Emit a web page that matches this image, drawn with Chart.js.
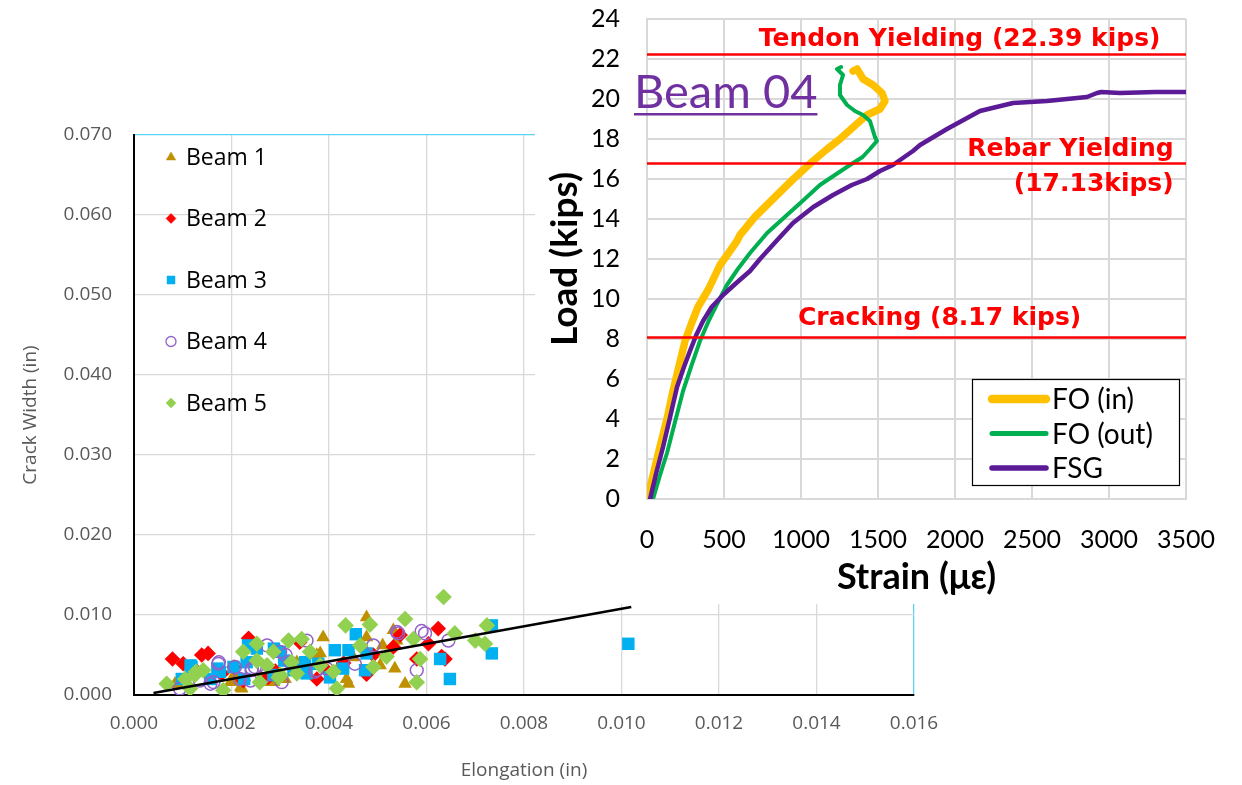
<!DOCTYPE html>
<html>
<head>
<meta charset="utf-8">
<script src="https://cdn.jsdelivr.net/npm/chart.js@4/dist/chart.umd.min.js"></script>
<style>
  html, body { margin: 0; padding: 0; background: #fff; }
  #wrap { position: relative; width: 1242px; height: 785px; overflow: hidden; }
  #crack { position: absolute; left: 0; top: 0; }
  #load { position: absolute; left: 535px; top: -23px; background: #fff; }
</style>
</head>
<body>
<div id="wrap">
  <canvas id="crack" width="1242" height="785"></canvas>
  <canvas id="load" width="707" height="627"></canvas>
</div>
<script>
// ---- crack width vs elongation (in) ----
const beam1X = [0.00477, 0.00388, 0.00477, 0.00532, 0.00539, 0.00535, 0.00556, 0.00505, 0.00436, 0.0044, 0.00382, 0.00477, 0.00416, 0.00221, 0.0021, 0.00084, 0.00334, 0.00286, 0.00375, 0.00205, 0.00219, 0.00198, 0.00089, 0.0028, 0.0031, 0.0026, 0.0045, 0.0051];
const beam1Y = [0.0097, 0.0072, 0.0072, 0.0081, 0.0068, 0.0033, 0.0014, 0.0037, 0.0020, 0.0014, 0.0052, 0.0052, 0.0031, 0.0008, 0.0018, 0.0014, 0.0041, 0.0016, 0.0050, 0.0025, 0.0010, 0.0016, 0.0014, 0.0016, 0.0020, 0.0022, 0.0047, 0.0062];

const beam2X = [0.00079, 0.00139, 0.00152, 0.00235, 0.0034, 0.00624, 0.00638, 0.00604, 0.00491, 0.00388, 0.00375, 0.00275, 0.00224, 0.00477, 0.00532, 0.0058, 0.00101, 0.00205, 0.00546, 0.00631, 0.0012, 0.0018, 0.0043, 0.0029];
const beam2Y = [0.0045, 0.0050, 0.0052, 0.0071, 0.0066, 0.0083, 0.0045, 0.0064, 0.0050, 0.0035, 0.0020, 0.0022, 0.0018, 0.0026, 0.0060, 0.0045, 0.0039, 0.0035, 0.0075, 0.0048, 0.0035, 0.0027, 0.0040, 0.0030];

const beam3X = [0.00734, 0.00734, 0.00648, 0.01014, 0.00628, 0.00455, 0.00412, 0.0044, 0.00402, 0.00429, 0.00474, 0.00477, 0.00354, 0.00351, 0.003, 0.00234, 0.00252, 0.00231, 0.00176, 0.00204, 0.00118, 0.00098, 0.00156, 0.00286, 0.00327, 0.00378, 0.00116, 0.00171, 0.00308, 0.00287, 0.00226];
const beam3Y = [0.0087, 0.0052, 0.0020, 0.0064, 0.0045, 0.0076, 0.0056, 0.0056, 0.0022, 0.0033, 0.0031, 0.0052, 0.0027, 0.0041, 0.0054, 0.0062, 0.0058, 0.0041, 0.0029, 0.0035, 0.0035, 0.0020, 0.0020, 0.0025, 0.0031, 0.0039, 0.0037, 0.0033, 0.0043, 0.0058, 0.0020];

const beam4X = [0.00539, 0.00597, 0.00645, 0.0058, 0.00491, 0.00453, 0.00354, 0.00375, 0.003, 0.0032, 0.00248, 0.00207, 0.00173, 0.00217, 0.00163, 0.00094, 0.00135, 0.00272, 0.00303, 0.00241, 0.00542, 0.00395, 0.00371, 0.00273, 0.00311, 0.00174, 0.00239, 0.00242, 0.00157, 0.0059];
const beam4Y = [0.0079, 0.0077, 0.0068, 0.0031, 0.0062, 0.0039, 0.0068, 0.0031, 0.0054, 0.0041, 0.0035, 0.0035, 0.0039, 0.0020, 0.0016, 0.0008, 0.0018, 0.0025, 0.0016, 0.0031, 0.0077, 0.0033, 0.0029, 0.0062, 0.0050, 0.0041, 0.0018, 0.0033, 0.0014, 0.0080];

const beam5X = [0.00635, 0.00724, 0.0070, 0.0072, 0.00658, 0.00556, 0.00484, 0.00434, 0.00573, 0.00587, 0.0058, 0.00416, 0.00464, 0.00491, 0.00518, 0.00317, 0.00344, 0.00361, 0.00286, 0.00252, 0.00224, 0.00252, 0.00323, 0.00334, 0.0030, 0.00258, 0.00183, 0.00142, 0.00125, 0.00105, 0.00067, 0.00115, 0.00382, 0.00409, 0.00273, 0.00297, 0.00127];
const beam5Y = [0.01225, 0.0087, 0.0068, 0.0064, 0.0077, 0.0095, 0.0088, 0.0087, 0.0070, 0.0045, 0.0016, 0.0008, 0.0062, 0.0035, 0.0048, 0.0068, 0.0070, 0.0054, 0.0054, 0.0064, 0.0054, 0.0043, 0.0041, 0.0027, 0.0025, 0.0016, 0.0006, 0.0031, 0.0025, 0.0020, 0.0014, 0.0008, 0.0037, 0.0029, 0.0037, 0.0022, 0.0029];

const trendX = [0.0004, 0.0102];
const trendY = [0.00025, 0.0110];

const beamNames = ['Beam 1', 'Beam 2', 'Beam 3', 'Beam 4', 'Beam 5'];

// ---- load vs strain, beam 04 ----
const foInStrain = [0, 40, 84, 130, 169, 210, 247, 290, 331, 400, 474, 530, 584, 604, 700, 818, 950, 1078, 1170, 1253, 1340, 1428, 1513, 1545, 1526, 1468, 1403, 1364, 1338];
const foInLoad = [0, 1.2, 2.6, 4.0, 5.4, 6.7, 7.9, 8.8, 9.6, 10.5, 11.7, 12.3, 12.9, 13.2, 14.1, 15.0, 16.0, 16.9, 17.5, 18.0, 18.6, 19.2, 19.5, 19.9, 20.3, 20.7, 21.0, 21.5, 21.4];

const foOutStrain = [39, 85, 130, 180, 234, 290, 344, 400, 455, 519, 590, 669, 780, 909, 1010, 1123, 1220, 1318, 1400, 1448, 1493, 1480, 1468, 1448, 1403, 1350, 1299, 1253, 1253, 1273, 1234, 1260];
const foOutLoad = [0, 1.2, 2.3, 3.8, 5.4, 6.7, 7.9, 8.9, 9.75, 10.7, 11.5, 12.3, 13.3, 14.2, 14.9, 15.7, 16.2, 16.7, 17.1, 17.5, 17.9, 18.1, 18.4, 18.9, 19.2, 19.4, 19.7, 20.2, 20.7, 21.2, 21.5, 21.6];

const fsgStrain = [20, 60, 104, 150, 195, 240, 279, 320, 364, 420, 494, 580, 669, 734, 840, 948, 1080, 1208, 1330, 1429, 1513, 1597, 1727, 1773, 1948, 2162, 2377, 2597, 2857, 2922, 2950, 3071, 3300, 3500];
const fsgLoad = [0, 1.3, 2.6, 4.1, 5.6, 6.6, 7.4, 8.2, 8.9, 9.6, 10.2, 10.8, 11.4, 12.0, 12.9, 13.8, 14.6, 15.2, 15.7, 16.0, 16.4, 16.7, 17.4, 17.7, 18.5, 19.4, 19.8, 19.9, 20.1, 20.3, 20.35, 20.3, 20.35, 20.35];

const limitNames = ['Tendon Yielding', 'Rebar Yielding', 'Cracking'];
const limitLoads = [22.23, 16.78, 8.07];
const strainRange = [0, 3500];

const pts = (xs, ys) => xs.map((x, i) => ({ x: x, y: ys[i] }));

// scatter marker look
const beamStyles = [
  { pointStyle: 'triangle', color: '#BF9000', radius: 7.8, fill: true },
  { pointStyle: 'rectRot', color: '#FF0000', radius: 7.8, fill: true },
  { pointStyle: 'rect', color: '#00B0F0', radius: 8.8, fill: true },
  { pointStyle: 'circle', color: '#9361C8', radius: 6.4, fill: false },
  { pointStyle: 'rectRot', color: '#92D050', radius: 8.3, fill: true }
];
const beamX = [beam1X, beam2X, beam3X, beam4X, beam5X];
const beamY = [beam1Y, beam2Y, beam3Y, beam4Y, beam5Y];

function drawMarker(ctx, style, x, y, r) {
  ctx.beginPath();
  if (style === 'triangle') {
    ctx.moveTo(x, y - r);
    ctx.lineTo(x + r * 0.95, y + r * 0.6);
    ctx.lineTo(x - r * 0.95, y + r * 0.6);
    ctx.closePath();
  } else if (style === 'rectRot') {
    ctx.moveTo(x, y - r); ctx.lineTo(x + r, y); ctx.lineTo(x, y + r); ctx.lineTo(x - r, y);
    ctx.closePath();
  } else if (style === 'rect') {
    ctx.rect(x - r * 0.8, y - r * 0.8, r * 1.6, r * 1.6);
  } else {
    ctx.arc(x, y, r, 0, Math.PI * 2);
  }
  ctx.fill();
  ctx.stroke();
}

// legend drawn inside the plot, top left
const beamLegend = {
  id: 'beamLegend',
  afterDraw(chart) {
    const ctx = chart.ctx;
    const a = chart.chartArea;
    ctx.save();
    ctx.font = '23px "Open Sans"';
    ctx.textBaseline = 'middle';
    ctx.textAlign = 'left';
    beamNames.forEach((name, i) => {
      const st = beamStyles[i];
      const y = a.top + 22 + i * 61.5;
      ctx.fillStyle = st.fill ? st.color : '#fff';
      ctx.strokeStyle = st.color;
      ctx.lineWidth = st.fill ? 0.5 : 1.3;
      drawMarker(ctx, st.pointStyle, a.left + 37, y, 5);
      ctx.fillStyle = '#000';
      ctx.fillText(name, a.left + 52, y + 1);
    });
    ctx.restore();
  }
};

const crackSets = beamNames.map((name, i) => ({
  label: name,
  data: pts(beamX[i], beamY[i]),
  pointStyle: beamStyles[i].pointStyle,
  pointRadius: beamStyles[i].radius,
  backgroundColor: beamStyles[i].fill ? beamStyles[i].color : 'rgba(255,255,255,0)',
  borderColor: beamStyles[i].color,
  pointBorderWidth: beamStyles[i].fill ? 0 : 1.5,
  order: 5 - i
}));
crackSets.push({
  label: 'Trend',
  data: pts(trendX, trendY),
  showLine: true,
  pointRadius: 0,
  borderColor: '#000',
  borderWidth: 2.5,
  order: -1
});

new Chart(document.getElementById('crack'), {
  type: 'scatter',
  data: { datasets: crackSets },
  plugins: [beamLegend],
  options: {
    responsive: false,
    animation: false,
    layout: { padding: { left: 0, top: 135, right: 328, bottom: 0 } },
    plugins: { legend: { display: false }, tooltip: { enabled: false } },
    scales: {
      x: {
        type: 'linear', min: 0, max: 0.016,
        ticks: { stepSize: 0.002, callback: v => v.toFixed(3), color: '#595959', font: { family: 'Open Sans', size: 19 }, padding: 17 },
        grid: { color: c => (c.tick && Math.abs(c.tick.value - 0.016) < 1e-9) ? '#5ED3F3' : '#D9D9D9', lineWidth: 1.3, drawTicks: false },
        border: { color: '#000', width: 2 },
        title: { display: true, text: 'Elongation (in)', color: '#595959', font: { family: 'Open Sans', size: 19 }, padding: { top: 0, bottom: 3 } },
        afterFit: s => { s.height = 90; }
      },
      y: {
        type: 'linear', min: 0, max: 0.07,
        ticks: { stepSize: 0.01, callback: v => v.toFixed(3), color: '#595959', font: { family: 'Open Sans', size: 19 }, padding: 22 },
        grid: { color: c => (c.tick && Math.abs(c.tick.value - 0.07) < 1e-9) ? '#5ED3F3' : '#D9D9D9', lineWidth: 1.3, drawTicks: false },
        border: { color: '#000', width: 2 },
        title: { display: true, text: 'Crack Width (in)', color: '#595959', font: { family: 'Open Sans', size: 19 }, padding: { top: 19, bottom: 0 } },
        afterFit: s => { s.width = 134; }
      }
    }
  }
});

// ---- load chart ----
const limitLabels = [
  { text: 'Tendon Yielding (22.39 kips)', at: 2030, dy: -15, align: 'center' },
  { text: 'Rebar Yielding', at: 3420, dy: -14, align: 'right' },
  { text: '(17.13kips)', at: 3420, dy: 21, align: 'right' },
  { text: 'Cracking (8.17 kips)', at: 1900, dy: -19, align: 'center' }
];
const limitOf = [0, 1, 1, 2];

const loadNotes = {
  id: 'loadNotes',
  afterDatasetsDraw(chart) {
    const ctx = chart.ctx;
    const xs = chart.scales.x, ys = chart.scales.y;
    const a = chart.chartArea;
    ctx.save();
    // threshold captions
    ctx.fillStyle = '#FF0000';
    ctx.font = 'bold 25px "DejaVu Sans"';
    ctx.textBaseline = 'middle';
    limitLabels.forEach((l, i) => {
      ctx.textAlign = l.align;
      ctx.fillText(l.text, xs.getPixelForValue(l.at), ys.getPixelForValue(limitLoads[limitOf[i]]) + l.dy);
    });
    // beam title
    ctx.fillStyle = '#7030A0';
    ctx.font = '47px Lato';
    ctx.textAlign = 'left';
    ctx.textBaseline = 'alphabetic';
    const tx = a.left - 13, ty = a.top + 89;
    ctx.fillText('Beam 04', tx, ty);
    const tw = ctx.measureText('Beam 04').width;
    ctx.fillRect(tx, ty + 5, tw, 2.5);
    // legend box
    const bx = a.right - 214, by = a.top + 360, bw = 207, bh = 106;
    ctx.fillStyle = '#fff';
    ctx.fillRect(bx, by, bw, bh);
    ctx.strokeStyle = '#000';
    ctx.lineWidth = 1.2;
    ctx.strokeRect(bx + 0.5, by + 0.5, bw, bh);
    ctx.font = '28px Lato';
    ctx.textBaseline = 'middle';
    const curves = chart.data.datasets.filter(d => d.curve);
    curves.forEach((d, i) => {
      const y = by + 20 + i * 34.5;
      ctx.strokeStyle = d.borderColor;
      ctx.lineWidth = d.borderWidth + 1;
      ctx.lineCap = 'round';
      ctx.beginPath();
      ctx.moveTo(bx + 20, y);
      ctx.lineTo(bx + 74, y);
      ctx.stroke();
      ctx.fillStyle = '#000';
      ctx.fillText(d.label, bx + 80, y + 1);
    });
    ctx.restore();
  }
};

const loadSets = [
  { label: 'FO (in)', curve: true, data: pts(foInStrain, foInLoad), borderColor: '#FFC000', borderWidth: 7.5, order: 3 },
  { label: 'FO (out)', curve: true, data: pts(foOutStrain, foOutLoad), borderColor: '#00B050', borderWidth: 4, order: 2 },
  { label: 'FSG', curve: true, data: pts(fsgStrain, fsgLoad), borderColor: '#5B1A96', borderWidth: 4.5, order: 1 }
];
limitNames.forEach((name, i) => {
  loadSets.push({
    label: name,
    data: pts(strainRange, [limitLoads[i], limitLoads[i]]),
    borderColor: '#FF0000',
    borderWidth: 2.5,
    order: 0
  });
});
loadSets.forEach(d => { d.showLine = true; d.pointRadius = 0; d.tension = 0; d.borderJoinStyle = 'round'; d.borderCapStyle = 'round'; });

new Chart(document.getElementById('load'), {
  type: 'scatter',
  data: { datasets: loadSets },
  plugins: [loadNotes],
  options: {
    responsive: false,
    animation: false,
    layout: { padding: { left: 0, top: 17, right: 56, bottom: 0 } },
    plugins: { legend: { display: false }, tooltip: { enabled: false } },
    scales: {
      x: {
        type: 'linear', min: 0, max: 3500,
        ticks: { stepSize: 500, color: '#000', font: { family: 'Lato', size: 25 }, padding: 26, callback: v => String(v) },
        grid: { color: '#D9D9D9', lineWidth: 2, drawTicks: false },
        border: { color: '#D9D9D9', width: 2 },
        title: { display: true, text: 'Strain (με)', color: '#000', font: { family: 'Lato', size: 36, weight: 'bold' }, padding: { top: 0, bottom: 5 } },
        afterFit: s => { s.height = 105; }
      },
      y: {
        type: 'linear', min: 0, max: 24,
        ticks: { stepSize: 2, color: '#000', font: { family: 'Lato', size: 25 }, padding: 27 },
        grid: { color: '#D9D9D9', lineWidth: 2, drawTicks: false },
        border: { color: '#D9D9D9', width: 2 },
        title: { display: true, text: 'Load (kips)', color: '#000', font: { family: 'Lato', size: 37, weight: 'bold' }, padding: { top: 8, bottom: 0 } },
        afterFit: s => { s.width = 112; }
      }
    }
  }
});
</script>
</body>
</html>
